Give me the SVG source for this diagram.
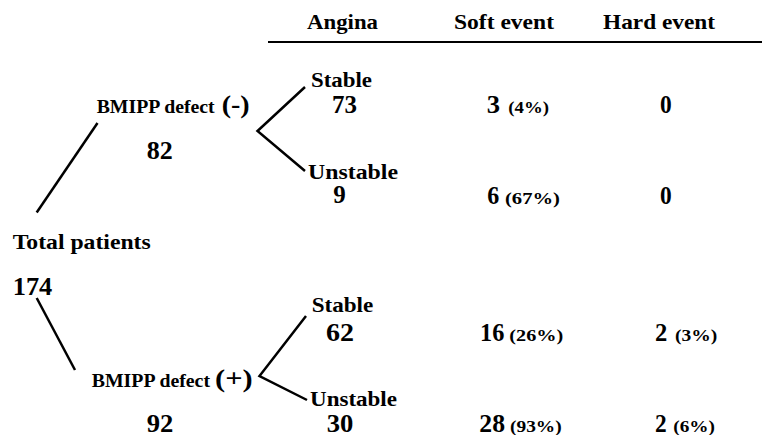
<svg xmlns="http://www.w3.org/2000/svg" width="762" height="435" viewBox="0 0 762 435">
<style>
.h{font-size:21px}
.n{font-size:25px}
.p{font-size:17px}
.s{font-size:18px}
.b{font-size:26px}
.c{stroke:#000;stroke-width:2.5;fill:none;stroke-linejoin:miter}
</style>
<rect width="762" height="435" fill="#fff"/>
<g font-family="Liberation Serif, Times New Roman, serif" font-weight="bold" fill="#000">
<g id="header">
<text class="h" x="307" y="29" textLength="71" lengthAdjust="spacingAndGlyphs">Angina</text>
<text class="h" x="454" y="29" textLength="100" lengthAdjust="spacingAndGlyphs">Soft event</text>
<text class="h" x="603" y="29" textLength="112" lengthAdjust="spacingAndGlyphs">Hard event</text>
<line x1="268" y1="42" x2="762" y2="42" stroke="#000" stroke-width="2"/>
</g>
<g id="total">
<text class="h" x="12.7" y="249" textLength="138" lengthAdjust="spacingAndGlyphs">Total patients</text>
<text class="b" x="12.7" y="295" textLength="39.6" lengthAdjust="spacingAndGlyphs">174</text>
</g>
<g id="bmipp-neg">
<text class="s" x="96.7" y="113" textLength="118" lengthAdjust="spacingAndGlyphs">BMIPP defect</text>
<text class="b" x="221.7" y="112.5" textLength="28" lengthAdjust="spacingAndGlyphs">(-)</text>
<text class="b" x="146.7" y="159" textLength="26" lengthAdjust="spacingAndGlyphs">82</text>
</g>
<g id="bmipp-pos">
<text class="s" x="91.7" y="387.3" textLength="118.3" lengthAdjust="spacingAndGlyphs">BMIPP defect</text>
<text class="b" x="215" y="386.8" textLength="37.7" lengthAdjust="spacingAndGlyphs">(+)</text>
<text class="b" x="146.7" y="432" textLength="26.6" lengthAdjust="spacingAndGlyphs">92</text>
</g>
<g id="neg-stable">
<text class="h" x="311" y="87" textLength="61" lengthAdjust="spacingAndGlyphs">Stable</text>
<text class="n" x="332" y="113" textLength="25" lengthAdjust="spacingAndGlyphs">73</text>
<text class="n" x="486.7" y="113.3" textLength="13.3" lengthAdjust="spacingAndGlyphs">3</text>
<text class="p" x="508.3" y="113.3" textLength="40.7" lengthAdjust="spacingAndGlyphs">(4%)</text>
<text class="n" x="660" y="113.3" textLength="11.7" lengthAdjust="spacingAndGlyphs">0</text>
</g>
<g id="neg-unstable">
<text class="h" x="308" y="179.3" textLength="90" lengthAdjust="spacingAndGlyphs">Unstable</text>
<text class="n" x="339.5" y="203.3" text-anchor="middle">9</text>
<text class="n" x="487.3" y="204" textLength="12" lengthAdjust="spacingAndGlyphs">6</text>
<text class="p" x="505" y="204" textLength="55" lengthAdjust="spacingAndGlyphs">(67%)</text>
<text class="n" x="660" y="204" textLength="11.7" lengthAdjust="spacingAndGlyphs">0</text>
</g>
<g id="pos-stable">
<text class="h" x="311.7" y="311.5" textLength="61.6" lengthAdjust="spacingAndGlyphs">Stable</text>
<text class="n" x="326" y="340.7" textLength="28" lengthAdjust="spacingAndGlyphs">62</text>
<text class="n" x="480" y="340.7" textLength="24.3" lengthAdjust="spacingAndGlyphs">16</text>
<text class="p" x="509.3" y="340.7" textLength="54" lengthAdjust="spacingAndGlyphs">(26%)</text>
<text class="n" x="655" y="340.7" textLength="12.3" lengthAdjust="spacingAndGlyphs">2</text>
<text class="p" x="675" y="340.7" textLength="42.3" lengthAdjust="spacingAndGlyphs">(3%)</text>
</g>
<g id="pos-unstable">
<text class="h" x="310" y="406" textLength="87" lengthAdjust="spacingAndGlyphs">Unstable</text>
<text class="n" x="326.7" y="431.5" textLength="26.6" lengthAdjust="spacingAndGlyphs">30</text>
<text class="n" x="479.3" y="431.5" textLength="25.7" lengthAdjust="spacingAndGlyphs">28</text>
<text class="p" x="510" y="431.5" textLength="51.7" lengthAdjust="spacingAndGlyphs">(93%)</text>
<text class="n" x="655" y="431.5" textLength="11.7" lengthAdjust="spacingAndGlyphs">2</text>
<text class="p" x="673.3" y="431.5" textLength="41.7" lengthAdjust="spacingAndGlyphs">(6%)</text>
</g>
</g>
<g id="connectors">
<line class="c" x1="97.5" y1="123" x2="36.7" y2="212.5"/>
<line class="c" x1="36.7" y1="298" x2="75" y2="370"/>
<polyline class="c" points="305,87 257.5,131 305,171"/>
<polyline class="c" points="306,316 259.5,376 307,400"/>
</g>
</svg>
